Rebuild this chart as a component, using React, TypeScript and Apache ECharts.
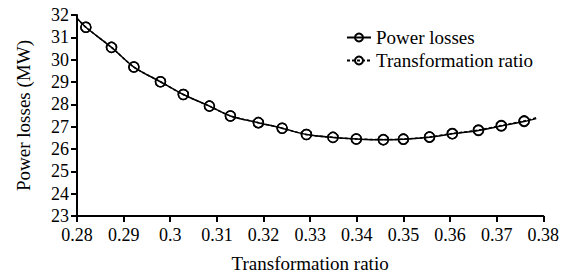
import React, { useEffect, useRef } from "react";
import * as echarts from "echarts";

const ratioPoints = [0.2819, 0.2874, 0.2922, 0.2979, 0.3028, 0.3084, 0.3129, 0.3189, 0.324, 0.3292, 0.3349, 0.3399, 0.3457, 0.35, 0.3556, 0.3605, 0.3661, 0.371, 0.3759];
const powerLosses = [31.45, 30.55, 29.67, 29.01, 28.44, 27.92, 27.48, 27.18, 26.93, 26.65, 26.52, 26.45, 26.41, 26.44, 26.53, 26.68, 26.83, 27.03, 27.23];
const ratioCurve = [31.45, 30.55, 29.67, 29.01, 28.44, 27.92, 27.48, 27.18, 26.93, 26.65, 26.52, 26.45, 26.42, 26.44, 26.54, 26.69, 26.85, 27.05, 27.26];
const curveStart = [0.28, 31.85];
const curveEndLoss = [0.3785, 27.36];
const curveEndRatio = [0.3785, 27.4];
const xTicks = { min: 0.28, max: 0.38, interval: 0.01 };
const yTicks = { min: 23, max: 32, interval: 1 };

const FONT = "Liberation Serif";

function buildData(ys: number[], start: number[], end: number[]) {
  const pts: any[] = [{ value: start, symbol: "none" }];
  ratioPoints.forEach((x, i) => pts.push({ value: [x, ys[i]] }));
  pts.push({ value: end, symbol: "none" });
  return pts;
}

export default function App() {
  const ref = useRef<HTMLDivElement>(null);
  useEffect(() => {
    const chart = echarts.init(ref.current!, null, { renderer: "svg" });
    const markerStyle = { color: "rgba(255,255,255,0)", borderColor: "#000", borderWidth: 1.5 };
    chart.setOption({
      animation: false,
      backgroundColor: "#fff",
      textStyle: { fontFamily: FONT },
      grid: { left: 77, right: 18, top: 15, bottom: 61 },
      legend: {
        orient: "vertical",
        left: 341,
        top: 23,
        itemWidth: 24,
        itemHeight: 10,
        itemGap: 4,
        textStyle: { fontFamily: FONT, fontSize: 19, color: "#000" },
        data: ["Power losses", "Transformation ratio"],
      },
      xAxis: {
        type: "value",
        min: xTicks.min,
        max: xTicks.max,
        interval: xTicks.interval,
        name: "Transformation ratio",
        nameLocation: "middle",
        nameGap: 38,
        nameTextStyle: { fontFamily: FONT, fontSize: 19, color: "#000" },
        axisLine: { lineStyle: { color: "#000", width: 2 } },
        axisTick: { show: true, length: 6, lineStyle: { color: "#000", width: 2 } },
        axisLabel: { fontFamily: FONT, fontSize: 18, color: "#000", margin: 10, formatter: (v: number) => String(+v.toFixed(2)) },
        splitLine: { show: false },
      },
      yAxis: {
        type: "value",
        min: yTicks.min,
        max: yTicks.max,
        interval: yTicks.interval,
        name: "Power losses (MW)",
        nameLocation: "middle",
        nameGap: 44,
        nameTextStyle: { fontFamily: FONT, fontSize: 19, color: "#000" },
        axisLine: { show: true, lineStyle: { color: "#000", width: 2 } },
        axisTick: { show: true, length: 6, lineStyle: { color: "#000", width: 2 } },
        axisLabel: { fontFamily: FONT, fontSize: 18, color: "#000", margin: 8 },
        splitLine: { show: false },
      },
      series: [
        {
          name: "Power losses",
          type: "line",
          smooth: 0.3,
          symbol: "circle",
          symbolSize: 10,
          itemStyle: markerStyle,
          lineStyle: { color: "#000", width: 1.5, type: "solid" },
          data: buildData(powerLosses, curveStart, curveEndLoss),
          z: 2,
        },
        {
          name: "Transformation ratio",
          type: "line",
          smooth: 0.3,
          symbol: "circle",
          symbolSize: 10,
          itemStyle: markerStyle,
          lineStyle: { color: "#000", width: 1.5, type: [3, 2] },
          data: buildData(ratioCurve, curveStart, curveEndRatio),
          z: 3,
        },
      ],
    });
    return () => chart.dispose();
  }, []);
  return <div ref={ref} style={{ width: 562, height: 278, position: "absolute", left: 0, top: 0 }} />;
}
